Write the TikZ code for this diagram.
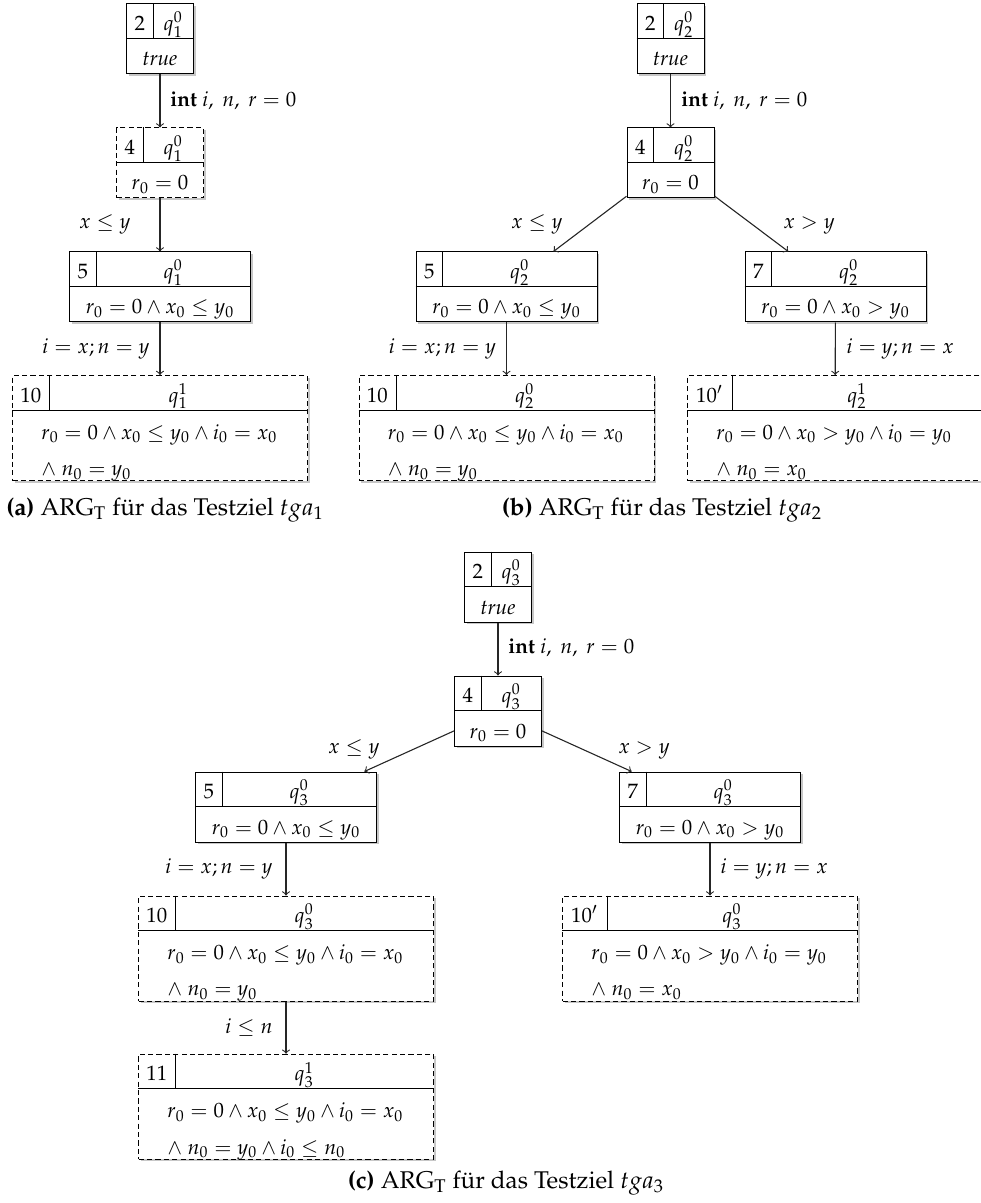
\documentclass[tikz,border=0pt]{standalone}
\usepackage[T1]{fontenc}
\usepackage{mathpazo}
\usetikzlibrary{shadows}
\tikzset{
  box/.style={draw, fill=white, line width=0.5pt, inner sep=0pt,
    drop shadow={shadow xshift=1.1pt, shadow yshift=-1.1pt, opacity=0.22, fill=black}},
  dbox/.style={box, dash pattern=on 2.6pt off 1.6pt},
  lbl/.style={inner sep=0pt},
  conn/.style={->, line width=0.55pt, draw=black!85},
  divl/.style={line width=0.5pt},
  capstyle/.style={inner sep=0pt, font=\fontsize{12.1}{14.5}\selectfont},
}
% #1 style, #2 name, #3 cx, #4 cy, #5 width, #6 height, #7 divider offset, #8 number, #9 q label
\newcommand\argnode[9]{%
  \node[#1, minimum width=#5*0.5pt, minimum height=#6*0.5pt] (#2) at (#3,#4) {};
  \draw[divl] ([yshift=-17.5pt]#2.north west) -- ([yshift=-17.5pt]#2.north east);
  \draw[divl] ([xshift=#7*0.5pt]#2.north west) -- ([xshift=#7*0.5pt,yshift=-17.5pt]#2.north west);
  \node[lbl, anchor=base] at ([xshift=#7*0.25pt, yshift=-13.5pt]#2.north west) {#8};
  \node[lbl, anchor=base] at ([xshift={(#5+#7)*0.25pt}, yshift=-13.5pt]#2.north west) {$#9$};
}
\newcommand\bodyone[2]{\node[lbl,anchor=base] at ([yshift=-31.25pt]#1.north) {#2};}
\newcommand\bodytwo[3]{%
  \node[lbl,anchor=base west] at ([xshift=14.5pt,yshift=-32pt]#1.north west) {#2};
  \node[lbl,anchor=base west] at ([xshift=14.5pt,yshift=-50.2pt]#1.north west) {#3};}
\newcommand\intdecl{\textbf{int} $i,\ n,\ r = 0$}
\begin{document}
\begin{tikzpicture}[x=0.5pt,y=-0.5pt,font=\fontsize{10.4}{12.5}\selectfont]
\useasboundingbox (0,0) rectangle (980,1203);
% ---------------- (a)
\argnode{box}{a2}{160}{39}{67}{70}{27.4}{2}{q_1^0}
\bodyone{a2}{\textit{true}}
\argnode{dbox}{a4}{160}{163}{87}{70}{27.4}{4}{q_1^0}
\bodyone{a4}{$r_0 = 0$}
\argnode{box}{a5}{160}{287}{181}{70}{27.4}{5}{q_1^0}
\bodyone{a5}{$r_0 = 0 \wedge x_0 \leq y_0$}
\argnode{dbox}{a10}{160}{428}{295}{105}{37.5}{10}{q_1^1}
\bodytwo{a10}{$r_0 = 0 \wedge x_0 \leq y_0 \wedge i_0 = x_0$}{$\wedge\ n_0 = y_0$}
\draw[conn] (a2) -- (a4);
\draw[conn] (a4) -- (a5);
\draw[conn] (a5) -- (a10);
\node[lbl,anchor=base west] (la1) at (170,106.7) {\intdecl};
\node[lbl,anchor=base east] (la2) at (131,228.5) {$x \leq y$};
\node[lbl,anchor=base east] (la3) at (150,353.3) {$i = x; n = y$};
\node[capstyle,anchor=base] (capa) at (165,515) {\textbf{(a)} ARG$_\mathrm{T}$ f\"ur das Testziel $tga_1$};
% ---------------- (b)
\argnode{box}{b2}{670.5}{39}{67}{70}{27.4}{2}{q_2^0}
\bodyone{b2}{\textit{true}}
\argnode{box}{b4}{670.5}{163}{87}{70}{27.4}{4}{q_2^0}
\bodyone{b4}{$r_0 = 0$}
\argnode{box}{b5}{506.5}{287}{181}{70}{27.4}{5}{q_2^0}
\bodyone{b5}{$r_0 = 0 \wedge x_0 \leq y_0$}
\argnode{box}{b7}{835.5}{287}{181}{70}{27.4}{7}{q_2^0}
\bodyone{b7}{$r_0 = 0 \wedge x_0 > y_0$}
\argnode{dbox}{b10}{506.5}{428}{295}{105}{37.5}{10}{q_2^0}
\bodytwo{b10}{$r_0 = 0 \wedge x_0 \leq y_0 \wedge i_0 = x_0$}{$\wedge\ n_0 = y_0$}
\argnode{dbox}{b10p}{835}{428}{295}{105}{45}{10$'$}{q_2^1}
\bodytwo{b10p}{$r_0 = 0 \wedge x_0 > y_0 \wedge i_0 = y_0$}{$\wedge\ n_0 = x_0$}
\draw[conn] (b2) -- (b4);
\draw[conn] (b4) -- (b5);
\draw[conn] (b4) -- (b7);
\draw[conn] (b5) -- (b10);
\draw[conn] (b7) -- (b10p);
\node[lbl,anchor=base west] (lb1) at (681,106.7) {\intdecl};
\node[lbl,anchor=base east] (lb2) at (563,228.5) {$x \leq y$};
\node[lbl,anchor=base west] (lb3) at (783,228.5) {$x > y$};
\node[lbl,anchor=base east] (lb4) at (496.5,353.3) {$i = x; n = y$};
\node[lbl,anchor=base west] (lb5) at (846,353.3) {$i = y; n = x$};
\node[capstyle,anchor=base] (capb) at (662,515) {\textbf{(b)} ARG$_\mathrm{T}$ f\"ur das Testziel $tga_2$};
% ---------------- (c)
\argnode{box}{c2}{498}{587}{67}{70}{27.4}{2}{q_3^0}
\bodyone{c2}{\textit{true}}
\argnode{box}{c4}{498}{711}{87}{70}{27.4}{4}{q_3^0}
\bodyone{c4}{$r_0 = 0$}
\argnode{box}{c5}{286}{807}{181}{70}{27.4}{5}{q_3^0}
\bodyone{c5}{$r_0 = 0 \wedge x_0 \leq y_0$}
\argnode{box}{c7}{710}{807}{181}{70}{27.4}{7}{q_3^0}
\bodyone{c7}{$r_0 = 0 \wedge x_0 > y_0$}
\argnode{dbox}{c10}{286}{948.5}{295}{105}{37.5}{10}{q_3^0}
\bodytwo{c10}{$r_0 = 0 \wedge x_0 \leq y_0 \wedge i_0 = x_0$}{$\wedge\ n_0 = y_0$}
\argnode{dbox}{c10p}{710}{948.5}{295}{105}{45}{10$'$}{q_3^0}
\bodytwo{c10p}{$r_0 = 0 \wedge x_0 > y_0 \wedge i_0 = y_0$}{$\wedge\ n_0 = x_0$}
\argnode{dbox}{c11}{286}{1106.7}{295}{105}{37.5}{11}{q_3^1}
\bodytwo{c11}{$r_0 = 0 \wedge x_0 \leq y_0 \wedge i_0 = x_0$}{$\wedge\ n_0 = y_0 \wedge i_0 \leq n_0$}
\draw[conn] (c2) -- (c4);
\draw[conn] (c4) -- (c5);
\draw[conn] (c4) -- (c7);
\draw[conn] (c5) -- (c10);
\draw[conn] (c7) -- (c10p);
\draw[conn] (c10) -- (c11);
\node[lbl,anchor=base west] (lc1) at (508,653) {\intdecl};
\node[lbl,anchor=base east] (lc2) at (380,753) {$x \leq y$};
\node[lbl,anchor=base west] (lc3) at (618,753) {$x > y$};
\node[lbl,anchor=base east] (lc4) at (273,873) {$i = x; n = y$};
\node[lbl,anchor=base west] (lc5) at (720,873) {$i = y; n = x$};
\node[lbl,anchor=base east] (lc6) at (273,1033) {$i \leq n$};
\node[capstyle,anchor=base] (capc) at (506,1188) {\textbf{(c)} ARG$_\mathrm{T}$ f\"ur das Testziel $tga_3$};
\end{tikzpicture}
\end{document}
